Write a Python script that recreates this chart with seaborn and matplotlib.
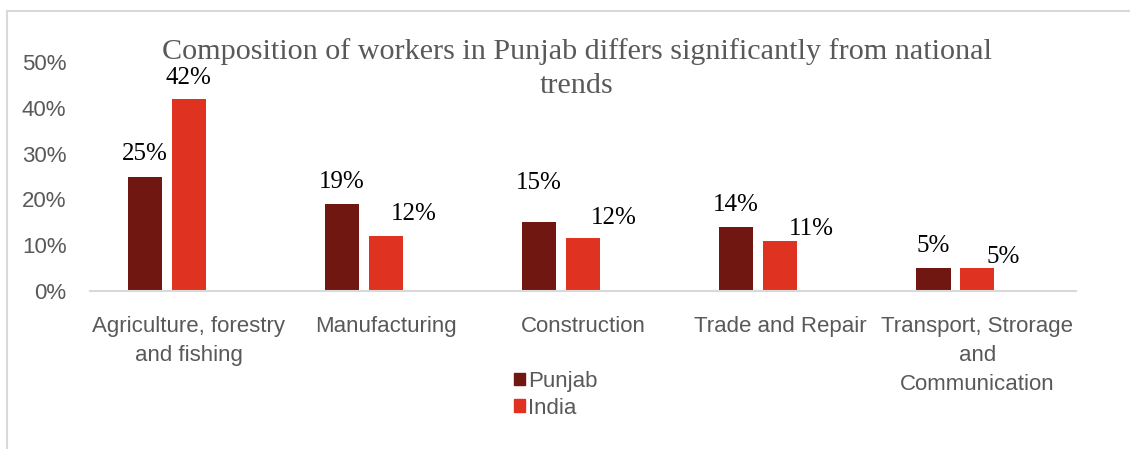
import pandas as pd
import numpy as np
import matplotlib
matplotlib.use("Agg")
import matplotlib.pyplot as plt
from matplotlib.patches import Rectangle
from matplotlib.ticker import PercentFormatter
import seaborn as sns

# data
sectors = ["Agriculture, forestry\nand fishing", "Manufacturing", "Construction",
           "Trade and Repair", "Transport, Strorage\nand\nCommunication"]
punjab = [25, 19, 15, 14, 5]
india = [42, 12, 11.6, 11, 5]
series = ["Punjab", "India"]
title_lines = ["Composition of workers in Punjab differs significantly from national",
               "trends"]

# label offsets (pixels) as placed in the original
punjab_dx = [0, 0, 0, 0, 0]
punjab_dy = [16, 16, 33, 16, 16]
india_dx = [0, 28, 31, 31, 26]
india_dy = [15, 16, 14, 6, 5]

colors = {"Punjab": "#6F1710", "India": "#E03220", "_pad": "#FFFFFF"}
grey = "#595959"

df = pd.DataFrame({
    "sector": sectors * 3,
    "series": ["Punjab"] * 5 + ["India"] * 5 + ["_pad"] * 5,
    "share": punjab + india + [np.nan] * 5,
})

sns.set_style("white")
plt.rcParams["font.family"] = ["Liberation Sans", "DejaVu Sans"]

fig = plt.figure(figsize=(11.3, 4.49), dpi=100)
ax = fig.add_axes([90 / 1130, 158 / 449, 986 / 1130, 229 / 449])

# third (empty) series keeps the bar pairs left of the category centre
sns.barplot(data=df, x="sector", y="share", hue="series",
            hue_order=["Punjab", "India", "_pad"], palette=colors, saturation=1,
            width=0.668, gap=0.225, linewidth=0, legend=False, ax=ax)

ax.set_ylim(0, 50)
ax.set_xlim(-0.5, 4.5)
ax.yaxis.set_major_locator(plt.MultipleLocator(10))
ax.yaxis.set_major_formatter(PercentFormatter(decimals=0))
ax.set_xlabel("")
ax.set_ylabel("")
ax.tick_params(axis="both", length=0, labelsize=16, colors=grey)
ax.tick_params(axis="y", pad=17)
ax.tick_params(axis="x", pad=18)
for lab in ax.get_xticklabels():
    lab.set_linespacing(1.5)
for side in ["top", "right", "left"]:
    ax.spines[side].set_visible(False)
ax.spines["bottom"].set_color("#D9D9D9")
ax.spines["bottom"].set_linewidth(1.5)

# data labels
offsets = [(punjab_dx, punjab_dy), (india_dx, india_dy)]
for cont, (dxs, dys) in zip(ax.containers[:2], offsets):
    for bar, dx, dy in zip(cont, dxs, dys):
        h = bar.get_height()
        ax.annotate(f"{h:.0f}%", (bar.get_x() + bar.get_width() / 2, h),
                    xytext=(dx, dy), textcoords="offset pixels",
                    ha="center", va="baseline", fontsize=18,
                    family="Liberation Serif", color="black")

# legend below the axis
handles = [Rectangle((0, 0), 1, 1, color=colors[s]) for s in series]
fig.legend(handles, series, loc="upper left", bbox_to_anchor=(514 / 1130, 1 - 371 / 449),
           frameon=False, fontsize=16, labelcolor=grey, handlelength=0.5,
           handleheight=0.5, handletextpad=0.15, labelspacing=0.25, borderpad=0,
           borderaxespad=0)

# two-line title, one baseline per line
for line, base in zip(title_lines, [59, 93]):
    fig.text(577 / 1130, 1 - base / 449, line, ha="center", va="baseline",
             fontsize=21.7, family="Liberation Serif", color=grey)

# chart area border (top and left visible)
fig.patches.append(Rectangle((7 / 1130, -0.1), 1.2, 1 - 11 / 449 + 0.1,
                             transform=fig.transFigure, fill=False,
                             edgecolor="#D9D9D9", linewidth=1.5))

fig.savefig("out.png", dpi=100)
